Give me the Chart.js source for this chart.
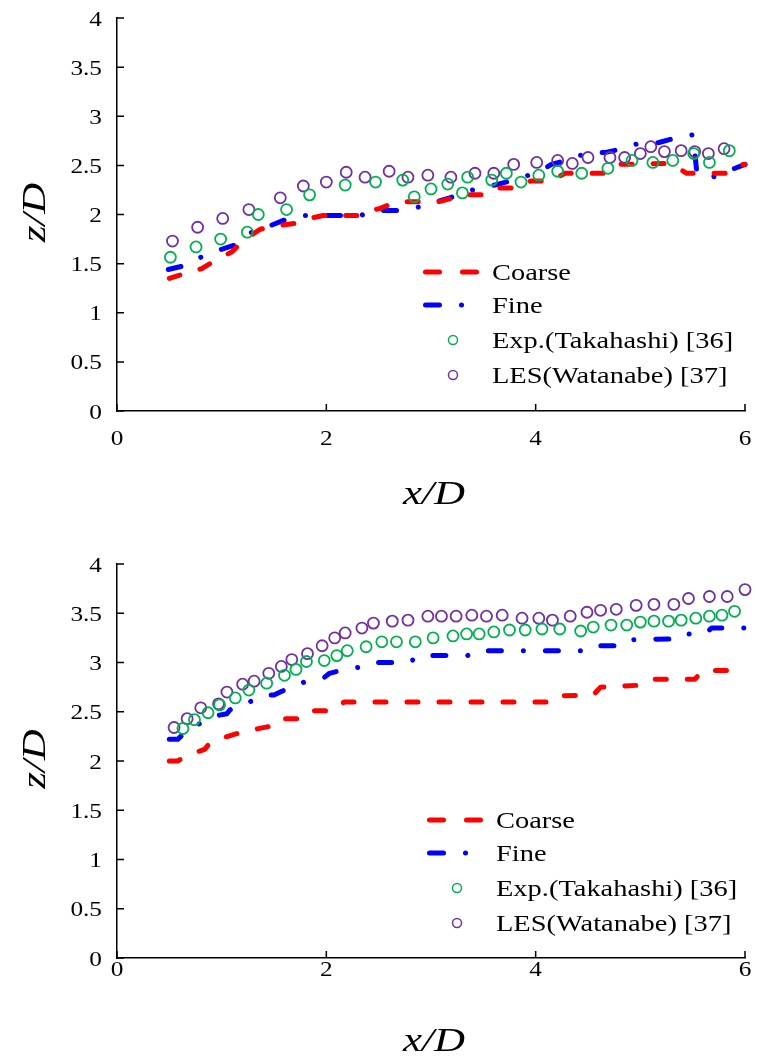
<!DOCTYPE html>
<html>
<head>
<meta charset="utf-8">
<script src="https://cdn.jsdelivr.net/npm/chart.js@4.4.0/dist/chart.umd.min.js"></script>
<style>
  html, body { margin: 0; padding: 0; background: #fff; }
  .panel { position: absolute; left: 0; width: 758px; height: 532px; }
  #topPanel { top: 0; }
  #bottomPanel { top: 532px; }
</style>
</head>
<body>
<div class="panel" id="topPanel"><canvas id="topChart" width="758" height="532"></canvas></div>
<div class="panel" id="bottomPanel"><canvas id="bottomChart" width="758" height="532"></canvas></div>
<script>
// series labels and axis titles
const seriesNames = ['Coarse', 'Fine', 'Exp.(Takahashi) [36]', 'LES(Watanabe) [37]'];
const xTitle = 'x/D';
const yTitle = 'z/D';

// Top panel - Coarse / Fine are step-like profiles
const topCoarseX = [0.50, 0.62, 0.81, 0.95, 1.10, 1.22, 1.37, 1.49, 1.70, 1.84, 1.97, 2.30, 2.38, 2.51, 2.67, 2.95, 3.04, 3.18, 3.30, 3.52, 3.62, 3.83, 3.95, 4.15, 4.28, 4.68, 4.79, 5.30, 5.44, 5.85, 5.95, 6.00];
const topCoarseZ = [1.35, 1.39, 1.45, 1.54, 1.62, 1.75, 1.85, 1.88, 1.91, 1.96, 1.99, 1.99, 2.03, 2.06, 2.13, 2.13, 2.12, 2.16, 2.20, 2.20, 2.27, 2.27, 2.34, 2.34, 2.42, 2.42, 2.51, 2.52, 2.42, 2.42, 2.51, 2.51];
const topFineX = [0.49, 0.65, 0.81, 0.98, 1.13, 1.27, 1.45, 1.59, 1.76, 2.16, 2.33, 2.45, 2.68, 2.86, 3.05, 3.18, 3.35, 3.54, 3.68, 3.85, 4.04, 4.15, 4.32, 4.50, 4.66, 4.83, 5.00, 5.17, 5.34, 5.50, 5.52, 5.54, 5.69, 5.83, 6.00];
const topFineZ = [1.44, 1.48, 1.57, 1.64, 1.69, 1.81, 1.88, 1.94, 1.99, 1.99, 1.99, 2.04, 2.04, 2.07, 2.13, 2.17, 2.24, 2.28, 2.32, 2.37, 2.44, 2.51, 2.56, 2.63, 2.63, 2.67, 2.73, 2.73, 2.78, 2.81, 2.64, 2.42, 2.38, 2.44, 2.51];
const topExpX = [0.51, 0.755, 0.99, 1.245, 1.35, 1.62, 1.84, 2.18, 2.47, 2.73, 2.84, 3.00, 3.16, 3.30, 3.35, 3.58, 3.72, 3.86, 4.03, 4.21, 4.44, 4.69, 4.92, 5.12, 5.31, 5.51, 5.66, 5.85];
const topExpZ = [1.565, 1.67, 1.75, 1.82, 2.00, 2.05, 2.20, 2.30, 2.33, 2.35, 2.18, 2.26, 2.31, 2.22, 2.38, 2.35, 2.42, 2.33, 2.40, 2.44, 2.42, 2.47, 2.55, 2.53, 2.55, 2.62, 2.53, 2.65];
const topLesX = [0.53, 0.77, 1.01, 1.26, 1.56, 1.78, 2.00, 2.19, 2.37, 2.60, 2.78, 2.97, 3.19, 3.42, 3.60, 3.79, 4.01, 4.21, 4.35, 4.50, 4.71, 4.85, 5.00, 5.10, 5.23, 5.39, 5.52, 5.65, 5.80];
const topLesZ = [1.73, 1.87, 1.96, 2.05, 2.17, 2.29, 2.33, 2.43, 2.38, 2.44, 2.38, 2.40, 2.38, 2.42, 2.42, 2.51, 2.53, 2.55, 2.52, 2.58, 2.58, 2.58, 2.62, 2.69, 2.64, 2.65, 2.64, 2.62, 2.67];

// Bottom panel
const botCoarseX = [0.50, 0.58, 0.66, 0.84, 0.90, 1.12, 1.22, 1.45, 1.52, 1.78, 1.86, 2.08, 2.17, 4.10, 4.15, 4.55, 4.62, 5.00, 5.10, 5.52, 5.60, 6.00];
const botCoarseZ = [2.00, 2.00, 2.05, 2.12, 2.20, 2.27, 2.30, 2.35, 2.43, 2.43, 2.51, 2.51, 2.60, 2.60, 2.66, 2.67, 2.75, 2.77, 2.83, 2.83, 2.92, 2.92];
const botFineX = [0.50, 0.58, 0.65, 0.79, 0.95, 1.05, 1.08, 1.25, 1.40, 1.50, 1.56, 1.72, 1.89, 1.97, 2.03, 2.21, 2.39, 2.46, 2.80, 2.87, 3.35, 3.42, 4.45, 4.52, 4.80, 4.87, 5.35, 5.41, 5.62, 5.68, 6.00];
const botFineZ = [2.22, 2.22, 2.29, 2.38, 2.46, 2.48, 2.52, 2.59, 2.67, 2.67, 2.70, 2.78, 2.83, 2.84, 2.89, 2.94, 2.96, 3.00, 3.00, 3.07, 3.07, 3.12, 3.12, 3.17, 3.17, 3.23, 3.24, 3.29, 3.29, 3.35, 3.35];
const botExpX = [0.63, 0.74, 0.87, 0.98, 1.13, 1.26, 1.43, 1.60, 1.71, 1.81, 1.98, 2.10, 2.20, 2.38, 2.53, 2.67, 2.85, 3.02, 3.21, 3.34, 3.46, 3.60, 3.75, 3.90, 4.06, 4.23, 4.43, 4.55, 4.72, 4.87, 5.00, 5.13, 5.27, 5.39, 5.53, 5.66, 5.78, 5.90];
const botExpZ = [2.33, 2.42, 2.49, 2.57, 2.64, 2.72, 2.79, 2.87, 2.93, 3.01, 3.02, 3.07, 3.12, 3.16, 3.21, 3.21, 3.21, 3.25, 3.27, 3.29, 3.29, 3.31, 3.33, 3.33, 3.34, 3.34, 3.32, 3.36, 3.38, 3.38, 3.41, 3.42, 3.42, 3.43, 3.45, 3.47, 3.48, 3.52];
const botLesX = [0.545, 0.67, 0.80, 0.97, 1.05, 1.20, 1.31, 1.45, 1.57, 1.67, 1.82, 1.96, 2.08, 2.18, 2.34, 2.45, 2.63, 2.78, 2.97, 3.10, 3.24, 3.39, 3.53, 3.68, 3.87, 4.03, 4.16, 4.33, 4.49, 4.62, 4.77, 4.96, 5.13, 5.32, 5.46, 5.66, 5.83, 6.00];
const botLesZ = [2.34, 2.43, 2.54, 2.58, 2.70, 2.78, 2.81, 2.89, 2.96, 3.03, 3.09, 3.17, 3.25, 3.30, 3.35, 3.40, 3.42, 3.43, 3.47, 3.47, 3.47, 3.48, 3.47, 3.48, 3.45, 3.45, 3.43, 3.47, 3.51, 3.53, 3.54, 3.58, 3.59, 3.59, 3.65, 3.67, 3.67, 3.74];

const RED = '#ff0000', BLUE = '#0000ff', GREEN = '#00b050', PURPLE = '#7030a0';
const SERIF = '"Liberation Serif", "Times New Roman", serif';

const pts = (xs, zs) => xs.map((x, i) => ({ x: x, y: zs[i] }));

// the original text is a bit wider than Times, so stretch it along its own direction
function wideText(ctx, text, x, y, font, sx, align, rotate) {
    ctx.save();
    ctx.translate(x, y);
    if (rotate) ctx.rotate(rotate);
    ctx.scale(sx, 1);
    ctx.font = font;
    ctx.textAlign = align;
    ctx.textBaseline = 'alphabetic';
    ctx.fillStyle = '#000';
    ctx.fillText(text, 0, 0);
    ctx.restore();
}

// Tick marks pointing into the plot, tick labels and axis titles
const axisDecor = {
    id: 'axisDecor',
    afterDatasetsDraw(chart, args, opts) {
        const ctx = chart.ctx;
        const xs = chart.scales.x, ys = chart.scales.y;
        const area = chart.chartArea;
        ctx.save();
        ctx.strokeStyle = '#000';
        ctx.lineWidth = 1.5;
        ctx.beginPath();
        ys.ticks.forEach(t => {
            const py = ys.getPixelForValue(t.value);
            ctx.moveTo(area.left, py);
            ctx.lineTo(area.left + 7, py);
        });
        xs.ticks.forEach(t => {
            const px = xs.getPixelForValue(t.value);
            ctx.moveTo(px, area.bottom);
            ctx.lineTo(px, area.bottom - 7);
        });
        ctx.stroke();
        ctx.restore();

        const tickFont = '22px ' + SERIF;
        ys.ticks.forEach(t => {
            wideText(ctx, String(t.value), area.left - 15, ys.getPixelForValue(t.value) + 7.5, tickFont, 1.15, 'right');
        });
        xs.ticks.forEach(t => {
            wideText(ctx, String(t.value), xs.getPixelForValue(t.value), area.bottom + opts.xLabelGap + 7.5, tickFont, 1.15, 'center');
        });

        const titleFont = 'italic 33px ' + SERIF;
        wideText(ctx, xTitle, (area.left + area.right) / 2 + 3, area.bottom + opts.xTitleGap + 11, titleFont, 1.3, 'center');
        wideText(ctx, yTitle, 45, (area.top + area.bottom) / 2 - 2, titleFont, 1.3, 'center', -Math.PI / 2);
    }
};

// Legend inside the plot area (lower right)
const innerLegend = {
    id: 'innerLegend',
    afterDraw(chart, args, opts) {
        const ctx = chart.ctx;
        const x0 = chart.chartArea.left + opts.dx;
        const y0 = chart.chartArea.top + opts.dy;
        const rows = [0, 33, 68, 103];
        chart.data.datasets.forEach((ds, i) => {
            const y = y0 + rows[i];
            ctx.save();
            ctx.strokeStyle = ds.borderColor;
            if (ds.showLine) {
                ctx.lineWidth = ds.borderWidth;
                ctx.lineCap = 'round';
                ctx.setLineDash(ds.legendDash);
                ctx.beginPath();
                ctx.moveTo(x0 + 2.5, y);
                ctx.lineTo(x0 + 55, y);
                ctx.stroke();
            } else {
                ctx.lineWidth = 1.5;
                ctx.beginPath();
                ctx.arc(x0 + 30, y, 4.5, 0, Math.PI * 2);
                ctx.stroke();
            }
            ctx.restore();
            wideText(ctx, ds.label, x0 + 69, y + 8, '23.5px ' + SERIF, 1.21, 'left');
        });
    }
};

function makeChart(id, coarse, fine, exp, les, lay) {
    const lineSet = (label, data, color, dash, legendDash) => ({
        label, data, showLine: true, borderColor: color, borderWidth: 5,
        borderDash: dash, borderCapStyle: 'round', borderJoinStyle: 'round',
        pointRadius: 0, fill: false, clip: false, legendDash, order: 2
    });
    const dotSet = (label, data, color) => ({
        label, data, showLine: false, borderColor: color, backgroundColor: 'rgba(0,0,0,0)',
        pointStyle: 'circle', pointRadius: 5.5, pointBorderWidth: 1.8, clip: false, order: 1
    });
    const noPad = s => { s.paddingTop = 0; s.paddingBottom = 0; s.paddingLeft = 0; s.paddingRight = 0; };

    return new Chart(document.getElementById(id), {
        type: 'scatter',
        data: {
            datasets: [
                lineSet(seriesNames[0], coarse, RED, [11, 21], [14, 23]),
                lineSet(seriesNames[1], fine, BLUE, [13, 22, 0.01, 22], [14, 22, 0.01, 40]),
                dotSet(seriesNames[2], exp, GREEN),
                dotSet(seriesNames[3], les, PURPLE)
            ]
        },
        options: {
            responsive: false,
            animation: false,
            events: [],
            layout: { padding: { top: lay.top, right: 13, left: 0, bottom: 0 } },
            plugins: {
                legend: { display: false },
                tooltip: { enabled: false },
                innerLegend: { dx: lay.legendDx, dy: lay.legendDy },
                axisDecor: { xLabelGap: lay.xLabelGap, xTitleGap: lay.xTitleGap }
            },
            scales: {
                x: {
                    type: 'linear', min: 0, max: 6,
                    ticks: { stepSize: 2, display: false },
                    grid: { display: false, drawTicks: false },
                    border: { display: true, color: '#000', width: 1.5 },
                    afterFit: s => { s.height = lay.xHeight; noPad(s); }
                },
                y: {
                    type: 'linear', min: 0, max: 4,
                    ticks: { stepSize: 0.5, display: false },
                    grid: { display: false, drawTicks: false },
                    border: { display: true, color: '#000', width: 1.5 },
                    afterFit: s => { s.width = 117; noPad(s); }
                }
            }
        },
        plugins: [axisDecor, innerLegend]
    });
}

makeChart('topChart',
    pts(topCoarseX, topCoarseZ), pts(topFineX, topFineZ),
    pts(topExpX, topExpZ), pts(topLesX, topLesZ),
    { top: 18, xHeight: 121, xLabelGap: 26, xTitleGap: 82, legendDx: 306, legendDy: 254 });

makeChart('bottomChart',
    pts(botCoarseX, botCoarseZ), pts(botFineX, botFineZ),
    pts(botExpX, botExpZ), pts(botLesX, botLesZ),
    { top: 32, xHeight: 106, xLabelGap: 10, xTitleGap: 82, legendDx: 310, legendDy: 256 });
</script>
</body>
</html>
